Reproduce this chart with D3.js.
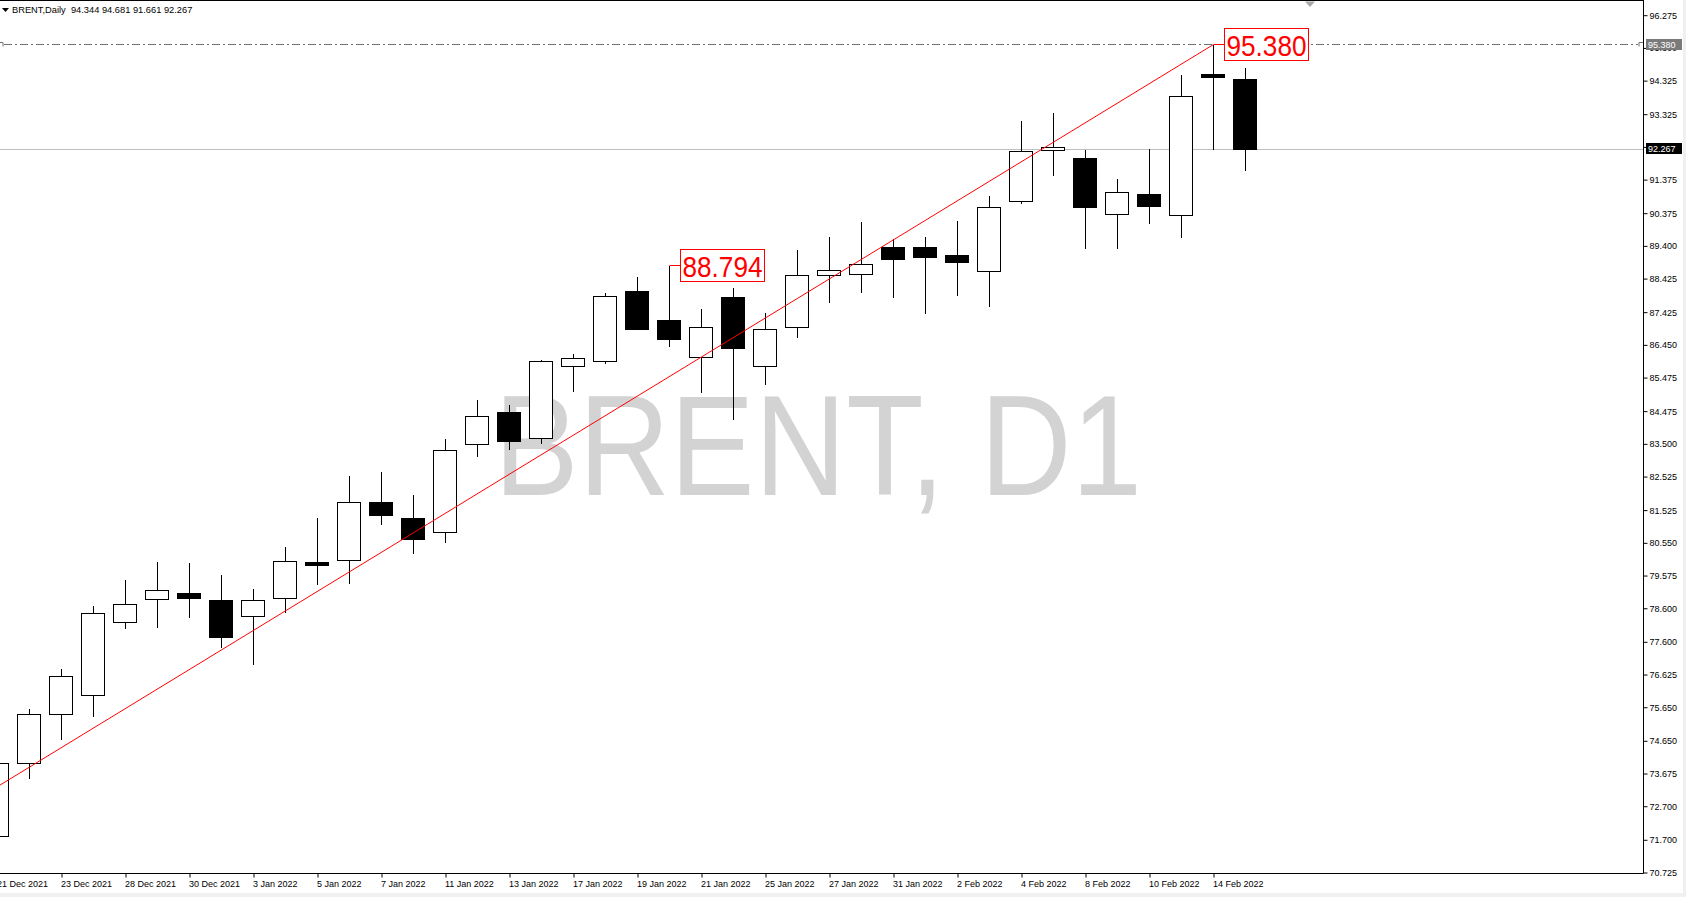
<!DOCTYPE html>
<html><head><meta charset="utf-8">
<script src="https://cdn.jsdelivr.net/npm/d3@7"></script>
<style>html,body{margin:0;padding:0;background:#fff;overflow:hidden}</style>
</head><body>
<svg id="c" width="1686" height="897"></svg>
<script>
const symbol = "BRENT";
const timeframe = "Daily";
const watermark = "BRENT, D1";
const dates = ["21 Dec 2021","22 Dec 2021","23 Dec 2021","24 Dec 2021","28 Dec 2021","29 Dec 2021","30 Dec 2021","31 Dec 2021",
  "3 Jan 2022","4 Jan 2022","5 Jan 2022","6 Jan 2022","7 Jan 2022","10 Jan 2022","11 Jan 2022","12 Jan 2022","13 Jan 2022","14 Jan 2022",
  "17 Jan 2022","18 Jan 2022","19 Jan 2022","20 Jan 2022","21 Jan 2022","24 Jan 2022","25 Jan 2022","26 Jan 2022","27 Jan 2022","28 Jan 2022",
  "31 Jan 2022","1 Feb 2022","2 Feb 2022","3 Feb 2022","4 Feb 2022","7 Feb 2022","8 Feb 2022","9 Feb 2022","10 Feb 2022","11 Feb 2022",
  "14 Feb 2022","15 Feb 2022"];
const open  = [71.80,73.97,75.43,76.00,78.17,78.86,79.05,78.84,78.35,78.89,79.96,80.02,81.75,81.27,80.85,83.48,84.43,83.66,85.80,85.95,88.04,87.18,86.07,87.86,85.80,86.97,88.51,88.54,89.36,89.36,89.12,88.63,90.72,92.24,92.01,90.33,90.93,90.30,94.51,94.344];
const high  = [74.10,75.59,76.78,78.66,79.43,79.97,79.94,79.58,79.16,80.42,81.28,82.53,82.65,81.97,83.63,84.80,84.65,85.98,86.16,87.97,88.45,88.794,87.51,88.13,87.39,89.27,89.66,90.10,89.59,89.66,90.13,90.86,93.11,93.35,92.25,91.38,92.28,94.48,95.380,94.681];
const low   = [71.60,73.54,74.70,75.36,78.01,78.04,78.31,77.44,76.91,78.48,79.32,79.35,81.11,80.22,80.57,83.11,83.34,83.52,85.05,85.88,86.90,86.39,85.02,84.24,85.28,86.68,87.70,88.00,87.85,87.37,87.91,87.58,90.66,91.51,89.31,89.31,90.08,89.66,92.27,91.661];
const close = [73.97,75.44,76.57,78.45,78.72,79.13,78.88,77.74,78.83,79.99,79.86,81.75,81.35,80.65,83.30,84.31,83.58,85.95,86.04,87.89,86.92,86.62,86.96,86.34,86.90,88.51,88.66,88.84,88.98,89.04,88.89,90.55,92.21,92.33,90.53,90.99,90.56,93.85,94.43,92.267];
const priceTicks = [96.275,95.300,94.325,93.325,92.350,91.375,90.375,89.400,88.425,87.425,86.450,85.475,84.475,83.500,82.525,81.525,80.550,79.575,78.600,77.600,76.625,75.650,74.650,73.675,72.700,71.700,70.725];
const priceLabelDates = ["20 Jan 2022","14 Feb 2022"];
const priceLabelValues = [88.794, 95.380];
const trendDates = ["21 Dec 2021","14 Feb 2022"];
const trendPrices = [73.27, 95.380];
const lastPrice = 92.267;
const markedPrice = 95.380;

const W = 1686, H = 897;
const plotL = 0, plotR = 1643, plotT = 1, plotB = 873;
const FONT = "'Liberation Sans', Arial, sans-serif";

const svg = d3.select("#c");
svg.append("rect").attr("width", W).attr("height", H).attr("fill", "#fff");
svg.append("rect").attr("x", 1683).attr("y", 0).attr("width", 3).attr("height", H).attr("fill", "#f0f0f0");
svg.append("rect").attr("x", 0).attr("y", 893).attr("width", W).attr("height", 4).attr("fill", "#f0f0f0");

const x = d3.scalePoint().domain(dates).range([-3, 1245]);
const y = d3.scaleLinear().domain([70.725, 96.275]).range([872, 14.7]);
const Y = v => Math.round(y(v));

svg.append("defs").append("clipPath").attr("id", "clip")
  .append("rect").attr("x", plotL).attr("y", plotT).attr("width", plotR - plotL).attr("height", plotB - plotT);
const plot = svg.append("g").attr("clip-path", "url(#clip)");

// watermark
plot.append("text").attr("x", 494).attr("y", 495)
  .attr("font-family", FONT).attr("font-size", 143).attr("fill", "#d3d3d3")
  .attr("textLength", 648).attr("lengthAdjust", "spacingAndGlyphs")
  .text(watermark);

// last price line
plot.append("line").attr("x1", plotL).attr("x2", plotR)
  .attr("y1", Y(lastPrice) + 0.5).attr("y2", Y(lastPrice) + 0.5)
  .attr("stroke", "#c0c0c0").attr("stroke-width", 1);

// marked price dash-dot line
const my = Y(markedPrice) - 0.5;
plot.append("line").attr("x1", 4).attr("x2", plotR - 5)
  .attr("y1", my).attr("y2", my)
  .attr("stroke", "#707070").attr("stroke-width", 1).attr("stroke-dasharray", "8,3,2,3");
plot.append("path").attr("d", `M0,${my - 2}H3V${my + 2}`).attr("fill", "none").attr("stroke", "#707070");
plot.append("path").attr("d", `M${plotR},${my - 2}H${plotR - 4}V${my + 2}`).attr("fill", "none").attr("stroke", "#707070");

// candles
const bars = dates.map((d, i) => ({d, o: open[i], h: high[i], l: low[i], c: close[i]}));
const g = plot.append("g");
bars.forEach(b => {
  const cx = Math.round(x(b.d));
  g.append("line").attr("x1", cx + 0.5).attr("x2", cx + 0.5)
    .attr("y1", Y(b.h)).attr("y2", Y(b.l) + 1)
    .attr("stroke", "#000").attr("stroke-width", 1);
  const top = Y(Math.max(b.o, b.c)), bot = Y(Math.min(b.o, b.c));
  if (b.c < b.o) {
    g.append("rect").attr("x", cx - 12).attr("y", top).attr("width", 24)
      .attr("height", Math.max(bot - top, 1) + 1).attr("fill", "#000");
  } else {
    g.append("rect").attr("x", cx - 11.5).attr("y", top + 0.5).attr("width", 23)
      .attr("height", Math.max(bot - top, 1)).attr("fill", "#fff")
      .attr("stroke", "#000").attr("stroke-width", 1);
  }
});

// trend line
plot.append("line")
  .attr("x1", x(trendDates[0]) + 0.5).attr("y1", y(trendPrices[0]))
  .attr("x2", x(trendDates[1]) + 0.5).attr("y2", Y(trendPrices[1]) - 0.5)
  .attr("stroke", "#ff0000").attr("stroke-width", 1);

// price labels
priceLabelDates.forEach((d, i) => {
  const cx = Math.round(x(d)) + 0.5, py = Y(priceLabelValues[i]) - 0.5;
  const lg = plot.append("g");
  lg.append("line").attr("x1", cx).attr("x2", cx + 11).attr("y1", py).attr("y2", py)
    .attr("stroke", "#ff0000");
  lg.append("rect").attr("x", cx + 11).attr("y", py - 16).attr("width", 84).attr("height", 32)
    .attr("fill", "#fff").attr("stroke", "#ff0000").attr("stroke-width", 1);
  lg.append("text").attr("x", cx + 13).attr("y", py + 11)
    .attr("font-family", FONT).attr("font-size", 30).attr("fill", "#ff0000")
    .attr("textLength", 80).attr("lengthAdjust", "spacingAndGlyphs")
    .text(priceLabelValues[i].toFixed(3));
});

// frame
svg.append("line").attr("x1", 0).attr("x2", plotR + 0.5).attr("y1", 0.5).attr("y2", 0.5).attr("stroke", "#000");
svg.append("line").attr("x1", plotR + 0.5).attr("x2", plotR + 0.5).attr("y1", 0).attr("y2", plotB + 0.5).attr("stroke", "#000");
svg.append("line").attr("x1", 0).attr("x2", plotR + 0.5).attr("y1", plotB + 0.5).attr("y2", plotB + 0.5).attr("stroke", "#000");

// price axis
const yAxis = d3.axisRight(y).tickValues(priceTicks).tickSize(4).tickPadding(2).tickFormat(d3.format(".3f"));
const ya = svg.append("g").attr("transform", `translate(${plotR + 0.5},0.5)`).call(yAxis);
ya.select(".domain").remove();
ya.selectAll("line").attr("stroke", "#000");
ya.selectAll("text").attr("font-family", FONT).attr("font-size", 9).attr("fill", "#000");

// axis price boxes
function axisBox(price, fill) {
  const py = Y(price) - 0.5;
  svg.append("rect").attr("x", plotR + 3).attr("y", py - 5.5).attr("width", 36).attr("height", 11).attr("fill", fill);
  svg.append("text").attr("x", plotR + 5).attr("y", py + 3.5)
    .attr("font-family", FONT).attr("font-size", 9).attr("fill", "#fff").text(price.toFixed(3));
}
axisBox(markedPrice, "#7a7a7a");
axisBox(lastPrice, "#000");

// time axis
const tickDates = dates.filter((d, i) => i % 2 === 0);
const xAxis = d3.axisBottom(x).tickValues(tickDates).tickSize(4).tickFormat(d => d);
const xa = svg.append("g").attr("transform", `translate(0.5,${plotB + 0.5})`).call(xAxis);
xa.select(".domain").remove();
xa.selectAll("line").attr("stroke", "#000");
xa.selectAll("text").attr("font-family", FONT).attr("font-size", 9).attr("fill", "#000")
  .attr("text-anchor", "start").attr("dx", -1).attr("y", 7).attr("dy", "0.71em");

// header
svg.append("path").attr("d", "M2,8H9L5.5,12Z").attr("fill", "#000");
svg.append("text").attr("x", 12).attr("y", 13).attr("xml:space", "preserve")
  .attr("font-family", FONT).attr("font-size", 9.3).attr("fill", "#000")
  .text(`${symbol},${timeframe}  ${open[open.length-1].toFixed(3)} ${high[high.length-1].toFixed(3)} ${low[low.length-1].toFixed(3)} ${close[close.length-1].toFixed(3)}`);

// chart shift marker
svg.append("path").attr("d", "M1305,1.5H1315L1310,7Z").attr("fill", "#a8a8a8");
</script>
</body></html>
